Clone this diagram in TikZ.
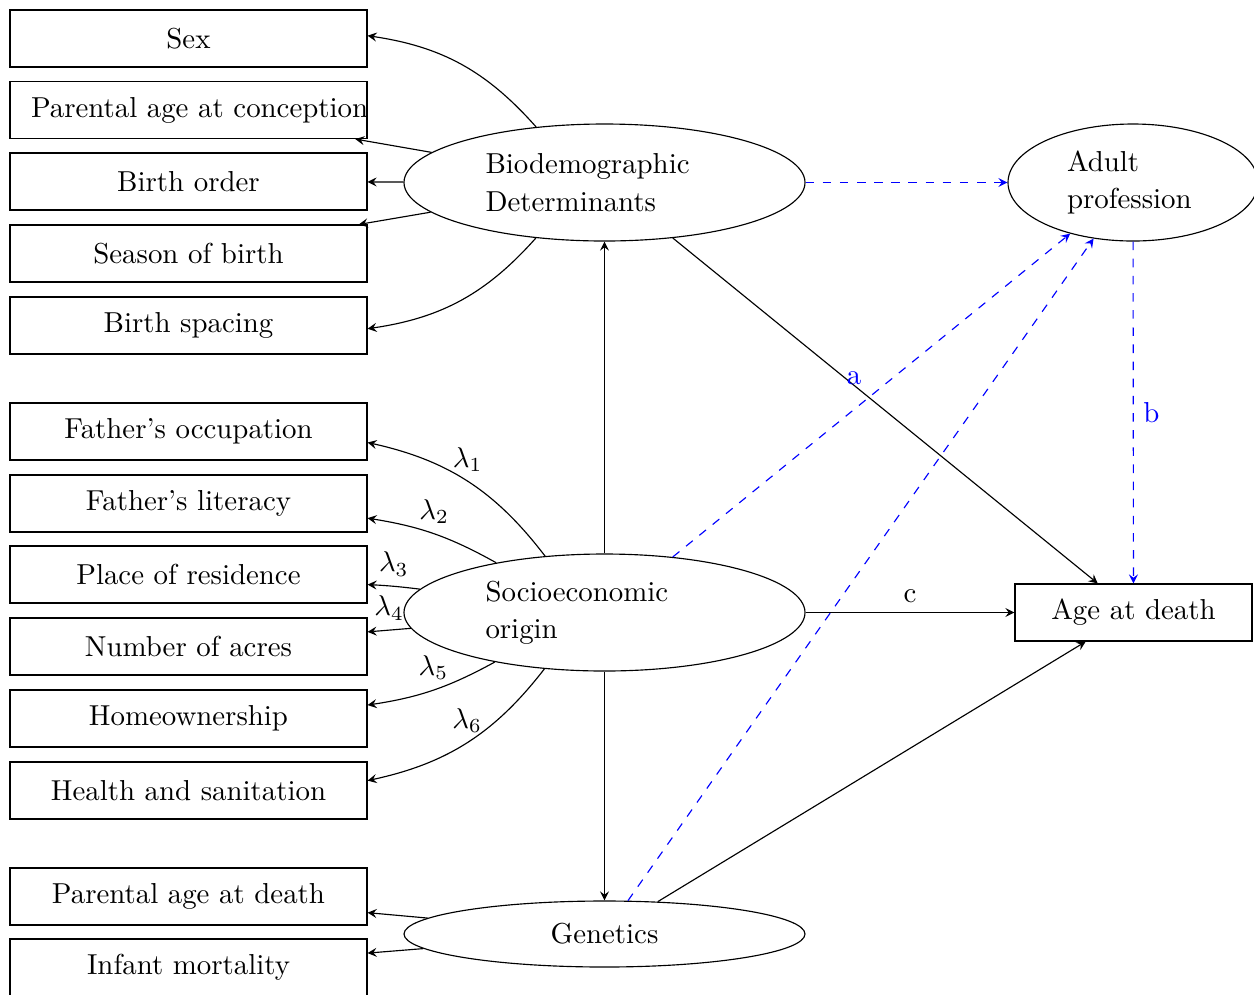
\documentclass[tikz,border=0pt]{standalone}
\usetikzlibrary{shapes.geometric}
\begin{document}
\begin{tikzpicture}[x=0.35pt,y=-0.35pt,>=stealth,
  every node/.style={font=\fontsize{10.1}{12.12}\selectfont},
  itembox/.style={draw,rectangle,inner sep=0pt,minimum width=124.95pt,minimum height=19.95pt},
  latent/.style={draw,ellipse,inner sep=0pt,minimum width=140.35pt,minimum height=40.95pt},
  ltext/.style={text width=83.3pt,align=left,font=\fontsize{10.1}{13.1}\selectfont},
  med/.style={blue,dashed,->}]
\useasboundingbox (0,0) rectangle (1254,994);
% indicator boxes
\node[itembox] (sex) at (188.5,38.5) {Sex};
\node[itembox] (pac) at (188.5,110) {\makebox[110.25pt][l]{Parental age at conception}};
\node[itembox] (bo)  at (188.5,181.5) {Birth order};
\node[itembox] (sob) at (188.5,253.5) {Season of birth};
\node[itembox] (bs)  at (188.5,325.5) {Birth spacing};
\node[itembox] (fo)  at (188.5,431.5) {Father's occupation};
\node[itembox] (fl)  at (188.5,503.5) {Father's literacy};
\node[itembox] (por) at (188.5,574.5) {Place of residence};
\node[itembox] (noa) at (188.5,646.5) {Number of acres};
\node[itembox] (ho)  at (188.5,718.5) {Homeownership};
\node[itembox] (hs)  at (188.5,790.5) {Health and sanitation};
\node[itembox] (pad) at (188.5,896.5) {Parental age at death};
\node[itembox] (im)  at (188.5,967.5) {Infant mortality};
% latent variables
\node[latent,ltext] (bd) at (604.5,182.5) {Biodemographic\\Determinants};
\node[latent,ltext] (se) at (604.5,612.5) {Socioeconomic\\origin};
\node[latent,minimum height=23.1pt] (ge) at (604.5,934) {Genetics};
\node[latent,ltext,minimum width=87.5pt,text width=46.2pt] (ap) at (1133,182.5) {Adult\\profession};
\node[itembox,minimum width=82.95pt] (ad) at (1133.5,612.5) {Age at death};
% biodemographic indicators
\draw[->] (bd) to[bend right=20] (sex);
\draw[->] (bd) -- (pac);
\draw[->] (bd) -- (bo);
\draw[->] (bd) -- (sob);
\draw[->] (bd) to[bend left=20] (bs);
% socioeconomic indicators
\draw[->] (se) to[bend right=20] node[above]{$\lambda_1$} (fo);
\draw[->] (se) to[bend right=10] node[above]{$\lambda_2$} (fl);
\draw[->] (se) to[bend right=2] node[above]{$\lambda_3$} (por);
\draw[->] (se) -- node[above]{$\lambda_4$} (noa);
\draw[->] (se) to[bend left=10] node[above]{$\lambda_5$} (ho);
\draw[->] (se) to[bend left=20] node[above]{$\lambda_6$} (hs);
% genetics indicators
\draw[->] (ge) -- (pad);
\draw[->] (ge) -- (im);
% structural paths
\draw[->] (se) -- (bd);
\draw[->] (se) -- (ge);
\draw[->] (bd) -- (ad);
\draw[->] (se) -- node[above]{c} (ad);
\draw[->] (ge) -- (ad);
% mediation paths
\draw[med] (bd) -- (ap);
\draw[med] (se) -- node[above left]{a} (ap);
\draw[med] (ge) -- (ap);
\draw[med] (ap) -- node[right]{b} (ad);
\end{tikzpicture}
\end{document}
